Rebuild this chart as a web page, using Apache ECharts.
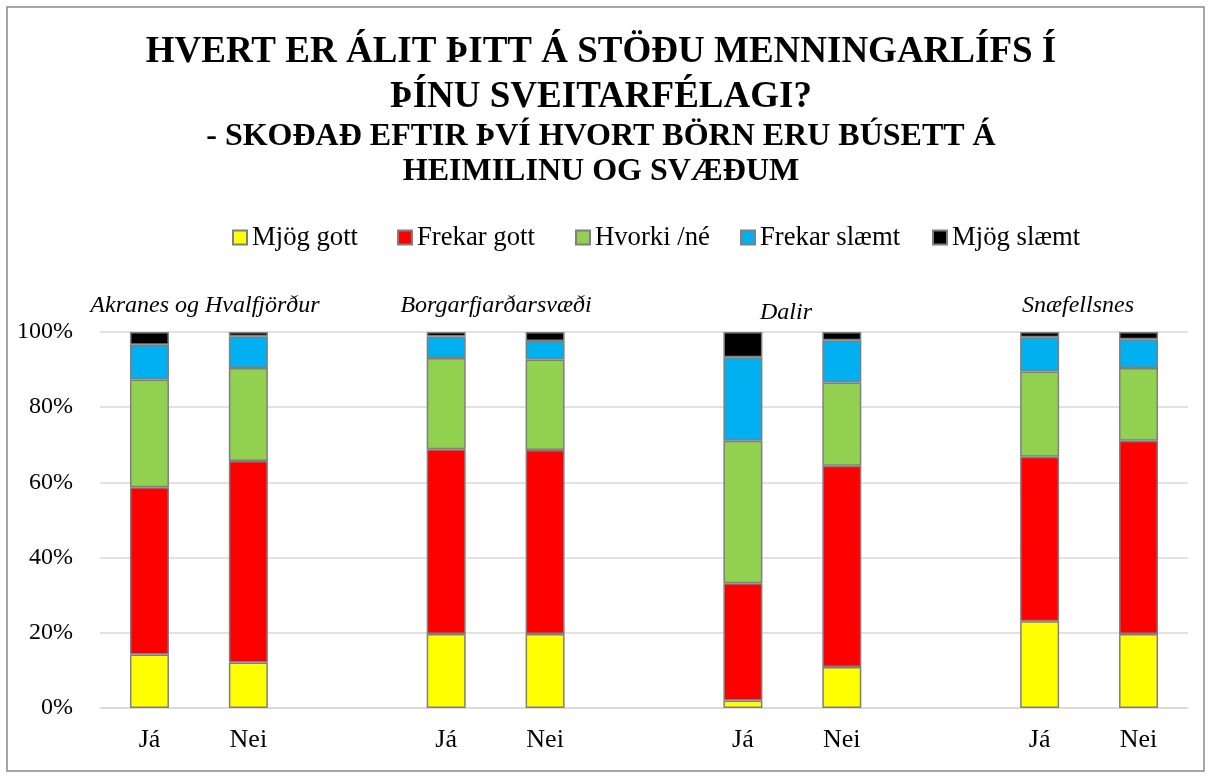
<!DOCTYPE html>
<html lang="is">
<head>
    <meta charset="UTF-8">
    <title>Menningarlíf eftir svæðum</title>
    <script src="https://cdn.jsdelivr.net/npm/echarts@6/dist/echarts.min.js"></script>
    <style>
        html, body { margin: 0; padding: 0; background: #fff; }
        #chart { width: 1212px; height: 778px; }
    </style>
</head>
<body>
    <div id="chart"></div>
    <script>
        // Flokkar á x-ás (tómur flokkur milli svæða)
        var categories = ['Já', 'Nei', '', 'Já', 'Nei', '', 'Já', 'Nei', '', 'Já', 'Nei'];
        var regions = ['Akranes og Hvalfjörður', 'Borgarfjarðarsvæði', 'Dalir', 'Snæfellsnes'];
        var seriesNames = ['Mjög gott', 'Frekar gott', 'Hvorki /né', 'Frekar slæmt', 'Mjög slæmt'];
        var seriesColors = ['#FFFF00', '#FF0000', '#92D050', '#00B0F0', '#000000'];
        var titleLines = ['HVERT ER ÁLIT ÞITT Á STÖÐU MENNINGARLÍFS Í', 'ÞÍNU SVEITARFÉLAGI?'];
        var subtitleLines = ['- SKOÐAÐ EFTIR ÞVÍ HVORT BÖRN ERU BÚSETT Á', 'HEIMILINU OG SVÆÐUM'];

        // Hlutföll (%) — null = bil milli svæða
        var mjogGott     = [14.2, 12.1, null, 19.7, 19.7, null, 2.0, 10.9, null, 23.1, 19.7];
        var frekarGott   = [44.5, 53.6, null, 49.1, 48.9, null, 31.2, 53.5, null, 43.7, 51.4];
        var hvorki       = [28.7, 24.7, null, 24.3, 24.1, null, 37.9, 22.2, null, 22.7, 19.3];
        var frekarSlaemt = [9.2, 8.5, null, 5.7, 4.9, null, 22.2, 11.2, null, 9.1, 7.7];
        var mjogSlaemt   = [3.4, 1.1, null, 1.2, 2.4, null, 6.7, 2.2, null, 1.4, 1.9];
        var seriesData = [mjogGott, frekarGott, hvorki, frekarSlaemt, mjogSlaemt];

        var font = "'Liberation Serif', 'Times New Roman', serif";
        var chart = echarts.init(document.getElementById('chart'));

        var legendLeft = [232, 397, 575, 740, 932];
        var legends = seriesNames.map(function (name, i) {
            return {
                data: [name],
                left: legendLeft[i],
                top: 224,
                padding: 0,
                icon: 'rect',
                itemWidth: 14,
                itemHeight: 14,
                itemGap: 0,
                textStyle: { fontFamily: font, fontSize: 26.7, color: '#000' },
                selectedMode: false
            };
        });

        var series = seriesNames.map(function (name, i) {
            return {
                name: name,
                type: 'bar',
                stack: 'total',
                barWidth: 39,
                itemStyle: { color: seriesColors[i], borderColor: '#7f7f7f', borderWidth: 1.5 },
                data: seriesData[i]
            };
        });

        function txt(str, x, y, size, extra) {
            var style = {
                text: str,
                fontFamily: font,
                fontSize: size,
                fill: '#000',
                align: 'center',
                verticalAlign: 'middle'
            };
            for (var k in extra) style[k] = extra[k];
            return { type: 'text', x: x, y: y, style: style, silent: true };
        }

        // Titill
        var titleTexts = [
            txt(titleLines[0], 601, 52, 37, { fontWeight: 'bold' }),
            txt(titleLines[1], 601, 97, 37, { fontWeight: 'bold' }),
            txt(subtitleLines[0], 601, 137, 32, { fontWeight: 'bold' }),
            txt(subtitleLines[1], 601, 172, 32, { fontWeight: 'bold' })
        ];

        // Svæðaheiti fyrir ofan súlurnar
        var regionX = [205, 496, 786, 1078];
        var regionY = [306, 306, 313, 306];
        var regionTexts = regions.map(function (r, i) {
            return txt(r, regionX[i], regionY[i], 24, { fontStyle: 'italic' });
        });

        chart.setOption({
            animation: false,
            backgroundColor: '#fff',
            legend: legends,
            grid: { left: 100, right: 24, top: 332, bottom: 70, containLabel: false },
            xAxis: {
                type: 'category',
                data: categories,
                axisLine: { lineStyle: { color: '#d9d9d9', width: 1.5 } },
                axisTick: { show: false },
                axisLabel: { fontFamily: font, fontSize: 26, color: '#000', margin: 19, interval: 0 }
            },
            yAxis: {
                type: 'value',
                min: 0,
                max: 100,
                interval: 20,
                axisLine: { show: false },
                axisTick: { show: false },
                splitLine: { lineStyle: { color: '#d9d9d9', width: 1.5 } },
                axisLabel: { formatter: '{value}%', fontFamily: font, fontSize: 24, color: '#000', margin: 27 }
            },
            series: series,
            graphic: [
                {
                    type: 'rect',
                    shape: { x: 7, y: 7, width: 1197, height: 764 },
                    style: { fill: 'none', stroke: '#898989', lineWidth: 1.5 },
                    silent: true
                }
            ].concat(titleTexts, regionTexts)
        });
    </script>
</body>
</html>
